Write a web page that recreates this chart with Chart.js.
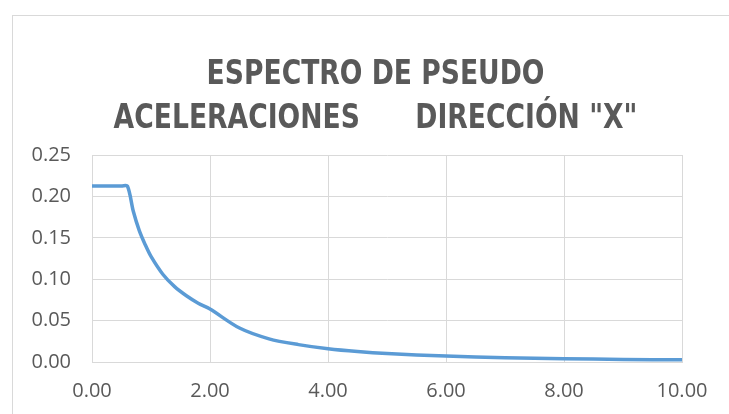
<!DOCTYPE html>
<html>
<head>
<meta charset="utf-8">
<script src="https://cdn.jsdelivr.net/npm/chart.js@4"></script>
<style>
html,body{margin:0;padding:0;background:#fff;}
#wrap{position:relative;width:729px;height:414px;}
</style>
</head>
<body>
<div id="wrap"><canvas id="c" width="729" height="414"></canvas></div>
<script>
// Period (s)
const periods = [0, 0.1, 0.2, 0.3, 0.4, 0.5, 0.6, 0.7, 0.8, 0.9, 1.0, 1.2, 1.4, 1.6, 1.8, 2.0, 2.5, 3.0, 3.5, 4.0, 4.5, 5.0, 6.0, 7.0, 8.0, 9.0, 10.0];
// Pseudo-acceleration
const accel = [0.2125, 0.2125, 0.2125, 0.2125, 0.2125, 0.2125, 0.2125, 0.182, 0.159, 0.142, 0.1275, 0.106, 0.091, 0.080, 0.071, 0.064, 0.041, 0.028, 0.021, 0.016, 0.0126, 0.0102, 0.0071, 0.0052, 0.0040, 0.0031, 0.0026];
const titleLines = ['ESPECTRO DE PSEUDO', 'ACELERACIONES      DIRECCIÓN "X"'];
const xTicks = [0, 2, 4, 6, 8, 10];
const yTicks = [0, 0.05, 0.10, 0.15, 0.20, 0.25];

const points = periods.map((p, i) => ({x: p, y: accel[i]}));

const frame = {
  id: 'frame',
  beforeDraw(chart) {
    const ctx = chart.ctx;
    ctx.save();
    ctx.fillStyle = '#ffffff';
    ctx.fillRect(0, 0, chart.width, chart.height);
    ctx.strokeStyle = '#d9d9d9';
    ctx.lineWidth = 1;
    ctx.strokeRect(12.5, 15.5, 900, 600);
    ctx.restore();
  },
  afterDraw(chart) {
    const ctx = chart.ctx;
    ctx.save();
    ctx.fillStyle = '#595959';
    ctx.font = 'bold 34px "DejaVu Sans Condensed", "DejaVu Sans", sans-serif';
    ctx.textAlign = 'center';
    ctx.textBaseline = 'alphabetic';
    const cx = 375.5, sx = 0.87;
    const baselines = [84, 128];
    titleLines.forEach((t, i) => {
      ctx.save();
      ctx.translate(cx, baselines[i]);
      ctx.scale(sx, 1);
      ctx.fillText(t, 0, 0);
      ctx.restore();
    });
    ctx.restore();
  }
};

new Chart(document.getElementById('c'), {
  type: 'scatter',
  data: {
    datasets: [{
      data: points,
      showLine: true,
      borderColor: '#5b9bd5',
      backgroundColor: '#5b9bd5',
      borderWidth: 3.5,
      pointRadius: 0,
      tension: 0.3,
      borderCapStyle: 'round',
      borderJoinStyle: 'round',
      fill: false
    }]
  },
  options: {
    responsive: false,
    animation: false,
    layout: { padding: { left: 0, right: 47, top: 155, bottom: 0 } },
    plugins: {
      legend: { display: false },
      tooltip: { enabled: false },
      title: { display: false }
    },
    scales: {
      x: {
        type: 'linear',
        min: 0, max: 10,
        afterBuildTicks(scale) { scale.ticks = xTicks.map(v => ({value: v})); },
        afterFit(scale) { scale.height = 52; },
        grid: { color: '#d9d9d9', drawTicks: false, lineWidth: 1 },
        border: { color: '#d9d9d9' },
        ticks: {
          color: '#595959',
          font: { family: '"Open Sans", sans-serif', size: 20 },
          padding: 17,
          maxRotation: 0,
          callback: v => Number(v).toFixed(2)
        }
      },
      y: {
        min: 0, max: 0.25,
        afterBuildTicks(scale) { scale.ticks = yTicks.map(v => ({value: v})); },
        afterFit(scale) { scale.width = 92; },
        grid: { color: '#d9d9d9', drawTicks: false, lineWidth: 1 },
        border: { color: '#d9d9d9' },
        ticks: {
          color: '#595959',
          font: { family: '"Open Sans", sans-serif', size: 20 },
          padding: 21,
          callback: v => Number(v).toFixed(2)
        }
      }
    }
  },
  plugins: [frame]
});
</script>
</body>
</html>
